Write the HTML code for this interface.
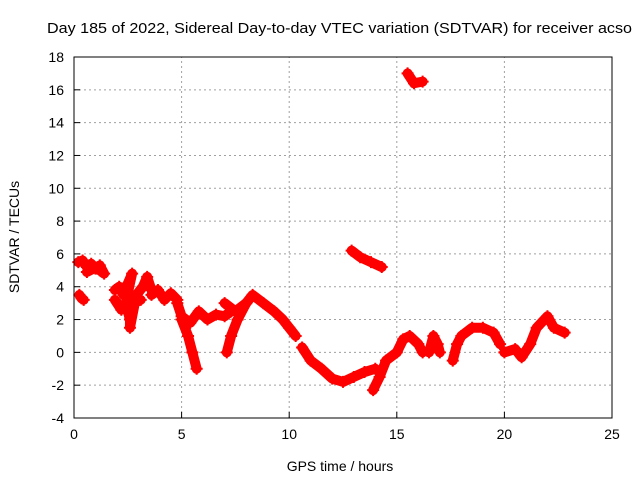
<!DOCTYPE html>
<html><head><meta charset="utf-8"><style>
body{margin:0;background:#fff;}
svg{display:block;font-family:"Liberation Sans",sans-serif;}
</style></head><body>
<svg id="chart" width="640" height="480" viewBox="0 0 640 480">
<rect width="640" height="480" fill="#fff"/>
<text x="47" y="33" font-size="15" textLength="585" lengthAdjust="spacingAndGlyphs">Day 185 of 2022, Sidereal Day-to-day VTEC variation (SDTVAR) for receiver acso</text>
<text x="340" y="471" font-size="14" text-anchor="middle">GPS time / hours</text>
<text transform="translate(19,237) rotate(-90)" font-size="14" text-anchor="middle">SDTVAR / TECUs</text>
<g id="grid"></g><g id="ticks"></g><g id="marks"></g>
<rect x="74" y="57" width="538" height="361" fill="none" stroke="#000" stroke-width="1"/>
</svg>
<script>
const xTicks=[0,5,10,15,20,25];
const yTicks=[-4,-2,0,2,4,6,8,10,12,14,16,18];
const trackA=[[0.25,3.5],[0.35,3.3],[0.45,3.2]];
const trackB=[[0.2,5.5],[0.4,5.6],[0.6,5.2],[0.8,5.4],[1.0,5.1],[1.2,5.0],[1.4,4.8],[1.2,5.3],[0.6,4.9]];
const trackC=[[1.9,3.8],[2.1,4.0],[2.3,3.5],[2.5,4.2],[2.7,4.8],[2.4,3.0],[2.6,2.0],[2.6,1.5],[2.9,3.5],[3.2,4.0],[3.4,4.6],[3.6,3.8]];
const trackC2=[[1.9,3.2],[2.2,2.6],[2.5,2.8],[2.8,3.0],[3.1,3.2]];
const trackD=[[3.6,3.5],[3.9,3.8],[4.2,3.2],[4.5,3.6],[4.8,3.2]];
const trackE=[[4.8,3.0],[5.0,2.2],[5.4,1.8],[5.8,2.5],[6.2,2.0],[6.6,2.3],[7.0,2.2],[7.3,2.5]];
const trackF=[[5.0,2.0],[5.3,1.0],[5.5,0.0],[5.7,-1.0]];
const trackG=[[7.1,0.0],[7.3,1.0],[7.6,2.0],[8.0,3.0]];
const trackH=[[7.0,3.0],[7.5,2.5],[8.0,3.0],[8.3,3.5],[8.8,3.0],[9.3,2.5],[9.7,2.0],[10.0,1.5],[10.3,1.0]];
const trackI=[[10.6,0.3],[11.0,-0.5],[11.5,-1.0],[12.0,-1.6],[12.5,-1.8],[13.0,-1.5],[13.5,-1.2],[14.0,-1.0]];
const trackJ=[[13.9,-2.3],[14.2,-1.5],[14.5,-0.5],[15.0,0.0],[15.3,0.8],[15.6,1.0],[16.0,0.5],[16.2,0.0]];
const trackK=[[16.5,0.0],[16.7,1.0],[16.9,0.5],[17.0,0.0]];
const trackL=[[17.6,-0.5],[17.8,0.5],[18.0,1.0],[18.5,1.5],[19.0,1.5],[19.5,1.2],[19.8,0.5]];
const trackM=[[20.0,0.0],[20.5,0.2],[20.8,-0.3],[21.2,0.5],[21.5,1.5],[22.0,2.2],[22.3,1.5],[22.8,1.2]];
const trackN=[[12.9,6.2],[13.3,5.8],[13.8,5.5],[14.3,5.2]];
const trackO=[[15.5,17.0],[15.8,16.4],[16.2,16.5]];
const tracks=[trackA,trackB,trackC,trackC2,trackD,trackE,trackF,trackG,trackH,trackI,trackJ,trackK,trackL,trackM,trackN,trackO];
const X0=74,X1=612,Y0=418,Y1=57;
const xs=v=>X0+(v-0)/(25-0)*(X1-X0);
const ys=v=>Y0-(v+4)/(18+4)*(Y0-Y1);
const NS="http://www.w3.org/2000/svg";
const grid=document.getElementById('grid'),ticks=document.getElementById('ticks'),marks=document.getElementById('marks');
function mk(t,a,p){const e=document.createElementNS(NS,t);for(const k in a)e.setAttribute(k,a[k]);p.appendChild(e);return e;}
xTicks.forEach(v=>{const x=xs(v);
 if(v>0&&v<25){const g=mk('line',{x1:x,x2:x,y1:Y0,y2:Y1,stroke:'#a0a0a0','stroke-dasharray':'2,3'},grid);
 
 }
 const t1=mk('line',{x1:x,x2:x,y1:Y0,y2:Y0-6,stroke:'#000'},ticks);
 
 
 const l=mk('text',{x:x,y:Y0+21,'font-size':14,'text-anchor':'middle'},ticks);l.textContent=v;
 
 });
yTicks.forEach(v=>{const y=ys(v);
 if(v>-4&&v<18){const g=mk('line',{x1:X0,x2:X1,y1:y,y2:y,stroke:'#a0a0a0','stroke-dasharray':'2,3'},grid);
 
 }
 const t1=mk('line',{x1:X0,x2:X0+6,y1:y,y2:y,stroke:'#000'},ticks);
 
 
 const l=mk('text',{x:X0-10,y:y+5,'font-size':14,'text-anchor':'end'},ticks);l.textContent=v;
 
 });
tracks.forEach((tr,i)=>{
 const pl=mk('polyline',{points:tr.map(p=>xs(p[0])+','+ys(p[1])).join(' '),fill:'none',stroke:'#f00','stroke-width':10,'stroke-linejoin':'round','stroke-linecap':'round'},marks);
 
 
 tr.forEach(p=>{const x=xs(p[0]),y=ys(p[1]);
  const m=mk('path',{d:`M${x-6},${y}H${x+6}M${x},${y-6}V${y+6}`,stroke:'#f00','stroke-width':2},marks);
  
  });
});
</script>
</body></html>
